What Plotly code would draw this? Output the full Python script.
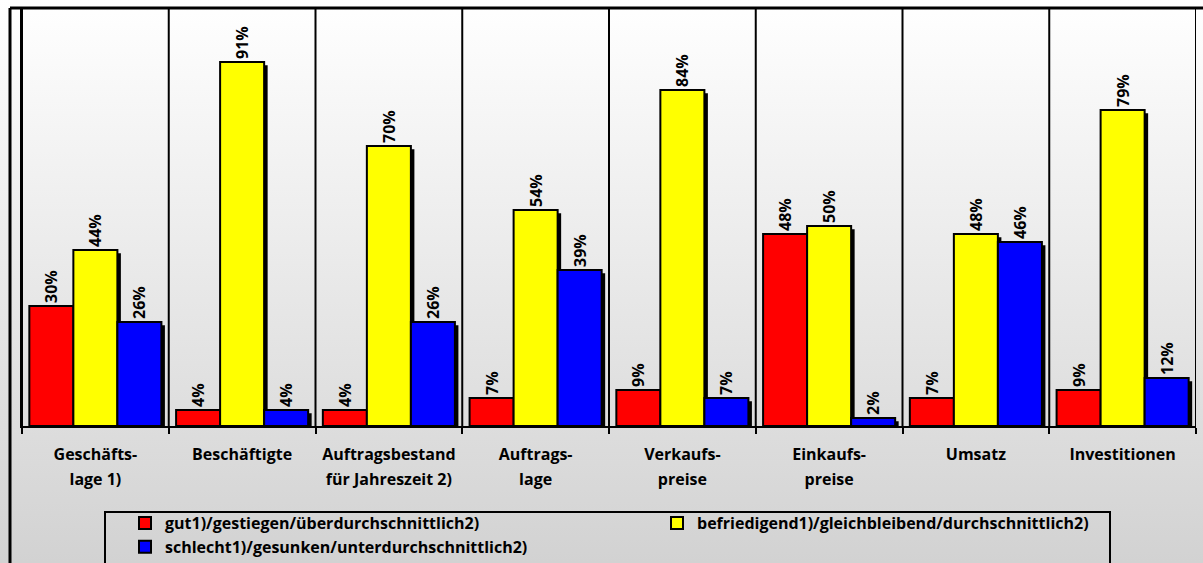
import plotly.graph_objects as go

categories_line1 = ["Geschäfts-", "Beschäftigte", "Auftragsbestand", "Auftrags-",
                    "Verkaufs-", "Einkaufs-", "Umsatz", "Investitionen"]
categories_line2 = ["lage 1)", "", "für Jahreszeit 2)", "lage",
                    "preise", "preise", "", ""]
series_names = ["gut1)/gestiegen/überdurchschnittlich2)",
                "befriedigend1)/gleichbleibend/durchschnittlich2)",
                "schlecht1)/gesunken/unterdurchschnittlich2)"]
red_values = [30, 4, 4, 7, 9, 48, 7, 9]
yellow_values = [44, 91, 70, 54, 84, 50, 48, 79]
blue_values = [26, 4, 26, 39, 7, 2, 46, 12]
colors = ["#ff0000", "#ffff00", "#0000ff"]

FONT = "Open Sans"
n = len(categories_line1)
xs = list(range(n))
W = 0.3
offsets = [-0.45, -0.15, 0.15]
PW, PH = 1174, 418
cat_px = PW / n
shadow_dx = 3.5 / cat_px
shadow_dy = 0.8

fig = go.Figure()
for vals, name, col, off in zip([red_values, yellow_values, blue_values], series_names, colors, offsets):
    fig.add_trace(go.Bar(
        x=xs, y=[max(v - shadow_dy, 0) for v in vals], width=W, offset=off + shadow_dx,
        marker=dict(color="black", line=dict(width=0)), showlegend=False, hoverinfo="skip"))
    fig.add_trace(go.Bar(
        x=xs, y=vals, width=W, offset=off, name=name,
        marker=dict(color=col, line=dict(color="black", width=2)),
        text=[f"{v}%" for v in vals], textposition="outside", textangle=-90,
        constraintext="none",
        textfont=dict(family=FONT, size=16, color="black", weight="bold"),
        cliponaxis=False))

fig.add_trace(go.Scatter(x=[], y=[], xaxis="x2", showlegend=False))

# separators
for k in range(n + 1):
    fig.add_shape(type="line", xref="x", yref="paper", x0=k - 0.5, x1=k - 0.5, y0=0, y1=1,
                  line=dict(color="black", width=2), layer="above")

# outer frame lines
fig.add_shape(type="line", xref="paper", yref="paper", x0=-12 / PW, x1=1181 / PW,
              y0=1, y1=1, line=dict(color="black", width=3))
fig.add_shape(type="line", xref="paper", yref="paper", x0=-12 / PW, x1=-12 / PW,
              y0=1, y1=-140 / PH, line=dict(color="black", width=3))
# legend box
fig.add_shape(type="rect", xref="paper", yref="paper", x0=(105 - 22) / PW, x1=(1110 - 22) / PW,
              y0=-(512 - 426) / PH, y1=-(600 - 426) / PH, line=dict(color="black", width=2))

grad = ("data:image/svg+xml;utf8,<svg xmlns='http://www.w3.org/2000/svg' width='1203' height='563'>"
        "<defs><linearGradient id='g' x1='0' y1='0' x2='0' y2='1'>"
        "<stop offset='0' stop-color='%23ffffff'/><stop offset='1' stop-color='%23d2d2d2'/>"
        "</linearGradient></defs><rect width='1203' height='563' fill='url(%23g)'/></svg>")
fig.add_layout_image(source=grad, xref="paper", yref="paper", x=-22 / PW, y=1 + 8 / PH,
                     sizex=1203 / PW, sizey=563 / PH, sizing="stretch",
                     xanchor="left", yanchor="top", layer="below")

fig.update_layout(
    width=1203, height=563,
    margin=dict(l=22, r=7, t=8, b=137, autoexpand=False),
    barmode="overlay",
    paper_bgcolor="rgba(0,0,0,0)", plot_bgcolor="rgba(0,0,0,0)",
    font=dict(family=FONT, size=16, color="black", weight="bold"),
    xaxis=dict(range=[-0.5, n - 0.5], tickmode="array", tickvals=xs, ticktext=categories_line1,
               showline=True, linecolor="black", linewidth=2, showgrid=False, zeroline=False,
               ticks="", ticklabelstandoff=13,
               tickfont=dict(family=FONT, size=16, color="black", weight="bold"),
               minor=dict(tickmode="array", tickvals=[k - 0.5 for k in range(n + 1)],
                          ticks="outside", ticklen=6, tickwidth=2, tickcolor="black", showgrid=False)),
    xaxis2=dict(range=[-0.5, n - 0.5], overlaying="x", anchor="y", side="bottom",
                tickmode="array", tickvals=xs, ticktext=categories_line2, showline=False,
                showgrid=False, zeroline=False, ticks="", ticklabelstandoff=42,
                tickfont=dict(family=FONT, size=16, color="black", weight="bold")),
    yaxis=dict(range=[0, 104.5], showticklabels=False, showgrid=False, zeroline=False,
               showline=True, linecolor="black", linewidth=2, ticks=""),
    legend=dict(orientation="h", x=(125 - 22) / PW, xanchor="left", y=-(506 - 426) / PH,
                yanchor="top", entrywidth=487, bgcolor="rgba(0,0,0,0)",
                font=dict(family=FONT, size=16, color="black", weight="bold"),
                traceorder="normal"),
    showlegend=True,
)

fig.write_html("out.html", config={"displayModeBar": False},
               post_script="document.body.style.margin='0';document.body.style.overflow='hidden';")
